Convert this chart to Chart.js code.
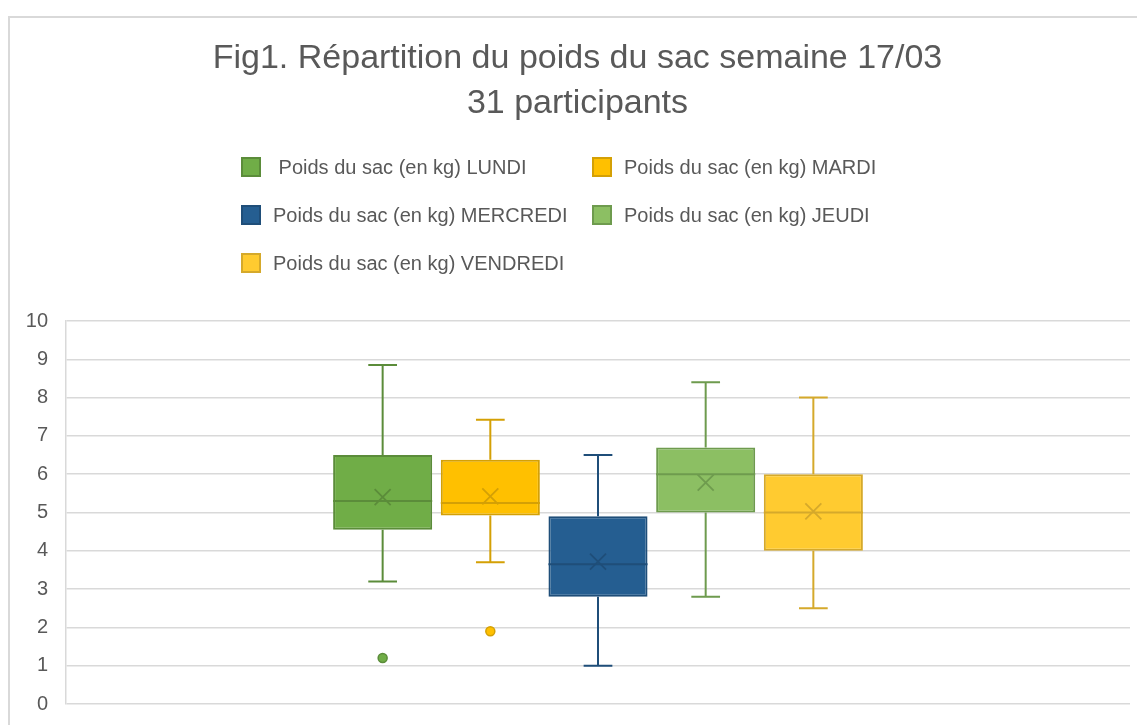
<!DOCTYPE html>
<html>
<head>
<meta charset="utf-8">
<script src="https://cdn.jsdelivr.net/npm/chart.js@4.4.1/dist/chart.umd.min.js"></script>
<style>
  html, body { margin: 0; padding: 0; background: #ffffff; }
  #wrap { width: 1137px; height: 725px; position: relative; }
</style>
</head>
<body>
<div id="wrap"><canvas id="c" width="1137" height="725"></canvas></div>
<script>
// ---- Data ----
const categories = ['LUNDI', 'MARDI', 'MERCREDI', 'JEUDI', 'VENDREDI'];
const seriesLabels = [
  ' Poids du sac (en kg) LUNDI',
  'Poids du sac (en kg) MARDI',
  'Poids du sac (en kg) MERCREDI',
  'Poids du sac (en kg) JEUDI',
  'Poids du sac (en kg) VENDREDI'
];
const whiskerMin = [3.2, 3.7, 1.0, 2.8, 2.5];
const q1Values   = [4.55, 4.92, 2.8, 5.0, 4.0];
const medianVals = [5.3, 5.25, 3.65, 6.0, 5.0];
const q3Values   = [6.5, 6.38, 4.9, 6.7, 6.0];
const whiskerMax = [8.85, 7.42, 6.5, 8.4, 8.0];
const meanValues = [5.4, 5.42, 3.72, 5.78, 5.03];
const outliers   = [[1.2], [1.9], [], [], []];
const yTicks     = [0, 1, 2, 3, 4, 5, 6, 7, 8, 9, 10];
const titleLines = ['Fig1. Répartition du poids du sac semaine 17/03', '31 participants'];

// ---- Styles ----
const fillColors   = ['#70AD47', '#FFC000', '#255E91', '#8CBF63', '#FFCB30'];
const strokeColors = ['#5B8C3A', '#D4A005', '#1F4E79', '#6E9B4E', '#D5A92B'];
const FONT = '"Liberation Sans", Arial, sans-serif';

const datasets = categories.map((c, i) => ({
  label: seriesLabels[i],
  data: [[q1Values[i], q3Values[i]]],
  backgroundColor: fillColors[i],
  borderColor: strokeColors[i],
  borderWidth: 2,
  borderSkipped: false,
  categoryPercentage: 0.506,
  barPercentage: 0.92
}));

const framePlugin = {
  id: 'frame',
  beforeDraw(chart) {
    const ctx = chart.ctx;
    ctx.save();
    ctx.fillStyle = '#ffffff';
    ctx.fillRect(0, 0, chart.width, chart.height);
    ctx.strokeStyle = '#D9D9D9';
    ctx.lineWidth = 2;
    ctx.strokeRect(9, 17, chart.width + 50, chart.height + 50);
    ctx.restore();
  }
};

const boxPlugin = {
  id: 'boxExtras',
  afterDatasetsDraw(chart) {
    const ctx = chart.ctx;
    const y = chart.scales.y;
    ctx.save();
    chart.data.datasets.forEach((ds, i) => {
      const bar = chart.getDatasetMeta(i).data[0];
      const x = bar.x;
      const w = bar.width;
      const cap = w * 0.29;
      const col = strokeColors[i];
      ctx.strokeStyle = col;
      ctx.lineWidth = 2;
      // whiskers
      ctx.beginPath();
      ctx.moveTo(x, y.getPixelForValue(q3Values[i]));
      ctx.lineTo(x, y.getPixelForValue(whiskerMax[i]));
      ctx.moveTo(x - cap / 2, y.getPixelForValue(whiskerMax[i]));
      ctx.lineTo(x + cap / 2, y.getPixelForValue(whiskerMax[i]));
      ctx.moveTo(x, y.getPixelForValue(q1Values[i]));
      ctx.lineTo(x, y.getPixelForValue(whiskerMin[i]));
      ctx.moveTo(x - cap / 2, y.getPixelForValue(whiskerMin[i]));
      ctx.lineTo(x + cap / 2, y.getPixelForValue(whiskerMin[i]));
      ctx.stroke();
      // median
      ctx.beginPath();
      const ym = y.getPixelForValue(medianVals[i]);
      ctx.moveTo(x - w / 2, ym);
      ctx.lineTo(x + w / 2, ym);
      ctx.stroke();
      // mean (X)
      const ya = y.getPixelForValue(meanValues[i]);
      const s = 8;
      ctx.lineWidth = 1.8;
      ctx.beginPath();
      ctx.moveTo(x - s, ya - s); ctx.lineTo(x + s, ya + s);
      ctx.moveTo(x - s, ya + s); ctx.lineTo(x + s, ya - s);
      ctx.stroke();
      // outliers
      outliers[i].forEach(v => {
        ctx.beginPath();
        ctx.arc(x, y.getPixelForValue(v), 4.5, 0, Math.PI * 2);
        ctx.fillStyle = fillColors[i];
        ctx.fill();
        ctx.lineWidth = 1.5;
        ctx.stroke();
      });
    });
    ctx.restore();
  }
};

const legendPlugin = {
  id: 'gridLegend',
  afterDraw(chart) {
    const ctx = chart.ctx;
    const colX = [241, 592];
    const rowY = [167, 215, 263];
    ctx.save();
    ctx.font = '20px ' + FONT;
    ctx.textBaseline = 'middle';
    ctx.textAlign = 'left';
    chart.data.datasets.forEach((ds, i) => {
      const cx = colX[i % 2];
      const cy = rowY[Math.floor(i / 2)];
      ctx.fillStyle = ds.backgroundColor;
      ctx.fillRect(cx, cy - 10, 20, 20);
      ctx.strokeStyle = ds.borderColor;
      ctx.lineWidth = 2;
      ctx.strokeRect(cx + 1, cy - 9, 18, 18);
      ctx.fillStyle = '#595959';
      ctx.fillText(ds.label, cx + 32, cy + 1);
    });
    ctx.restore();
  }
};

new Chart(document.getElementById('c'), {
  type: 'bar',
  data: { labels: [''], datasets },
  options: {
    responsive: false,
    animation: false,
    devicePixelRatio: 1,
    layout: { padding: { left: 25, right: 7, top: 0, bottom: 21 } },
    plugins: {
      legend: { display: false },
      tooltip: { enabled: false },
      title: {
        display: true,
        text: titleLines,
        color: '#595959',
        font: { family: FONT, size: 34, weight: 'normal', lineHeight: 1.3 },
        padding: { top: 37, bottom: 195.6 }
      }
    },
    scales: {
      x: {
        display: false,
        grid: { display: false }
      },
      y: {
        min: 0,
        max: 10,
        afterBuildTicks(scale) { scale.ticks = yTicks.map(v => ({ value: v })); },
        afterFit(scale) { scale.width = 41; scale.paddingTop = 0; scale.paddingBottom = 0; },
        ticks: { color: '#595959', font: { family: FONT, size: 20 }, padding: 18 },
        grid: { color: '#D9D9D9', lineWidth: 1.5, drawTicks: false },
        border: { display: true, color: '#D9D9D9', width: 1.5 }
      }
    }
  },
  plugins: [framePlugin, boxPlugin, legendPlugin]
});
</script>
</body>
</html>
